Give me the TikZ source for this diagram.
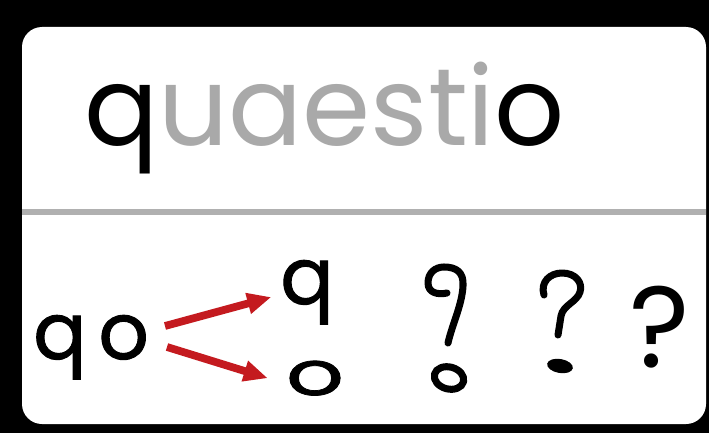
\documentclass[tikz,border=0pt]{standalone}
\usepackage{fontspec}
\setmainfont{Poppins}
\newfontfamily\inkfont[FakeBold=1.2]{Poppins}
\usetikzlibrary{arrows.meta}
\definecolor{fadegray}{HTML}{A9A9A9}
\definecolor{rulegray}{HTML}{B0B0B0}
\definecolor{arrowred}{HTML}{C41A1F}

\begin{document}
\begin{tikzpicture}[x=0.025cm, y=-0.025cm,
    glyph/.style={line width=5pt, line cap=round, line join=round},
    fork/.style={arrowred, line width=5.5pt, -{Triangle[length=0.6cm, width=0.5cm]}},
    word/.style={inner sep=0pt, font=\fontsize{78}{80}\selectfont},
    letter/.style={inner sep=0pt, font=\inkfont\fontsize{56}{58}\selectfont}]
    % Frame and divider
    \useasboundingbox (0,0) rectangle (709,433);
    \fill[black] (0,0) rectangle (709,433);
    \fill[white, rounded corners=0.5cm] (22,27) rectangle (706,424);
    \draw[rulegray, line width=3.6pt] (22,212) -- (706,212);

    % Word
    \node[word, anchor=base west] (word) at (84,145) {q\textcolor{fadegray}{uaesti}o};

    % Split of qo
    \node[letter, anchor=base west] (qo) at (33,359) {q\kern0.3cm o};
    \node[letter, anchor=base] (qtop) at (307,304) {q};
    \node[letter, anchor=base] (obot) at (315,395) {\scalebox{1.15}[0.78]{o}};
    \coordinate (forkup) at (165,326);
    \coordinate (forkdown) at (167,347);
    \draw[fork] (forkup) -- ([xshift=-0.22cm, yshift=-0.12cm]qtop.west);
    \draw[fork] (forkdown) -- ([xshift=-0.45cm]obot.west);

    % Hook over o
    \draw[glyph] (447,293) .. controls (438,295) and (428,293) .. (428,283)
        .. controls (428,273) and (435,267) .. (444,267)
        .. controls (456,267) and (464,272) .. (463,286)
        .. controls (462,305) and (452,325) .. (448,343);
    \draw[glyph, rotate around={-15:(449,378)}] (449,378) ellipse [x radius=15, y radius=11];

    % Hook over dash
    \draw[glyph] (544,295) .. controls (540,282) and (550,273) .. (562,273)
        .. controls (576,273) and (583,283) .. (580,292)
        .. controls (577,302) and (563,305) .. (561,316) -- (558,335);
    \fill[rotate around={-10:(560,366)}] (560,366) ellipse [x radius=13, y radius=7];

    % Question mark
    \node[inner sep=0pt, font=\fontsize{82}{84}\selectfont, anchor=base] (qmark) at (660,367) {?};
\end{tikzpicture}
\end{document}
